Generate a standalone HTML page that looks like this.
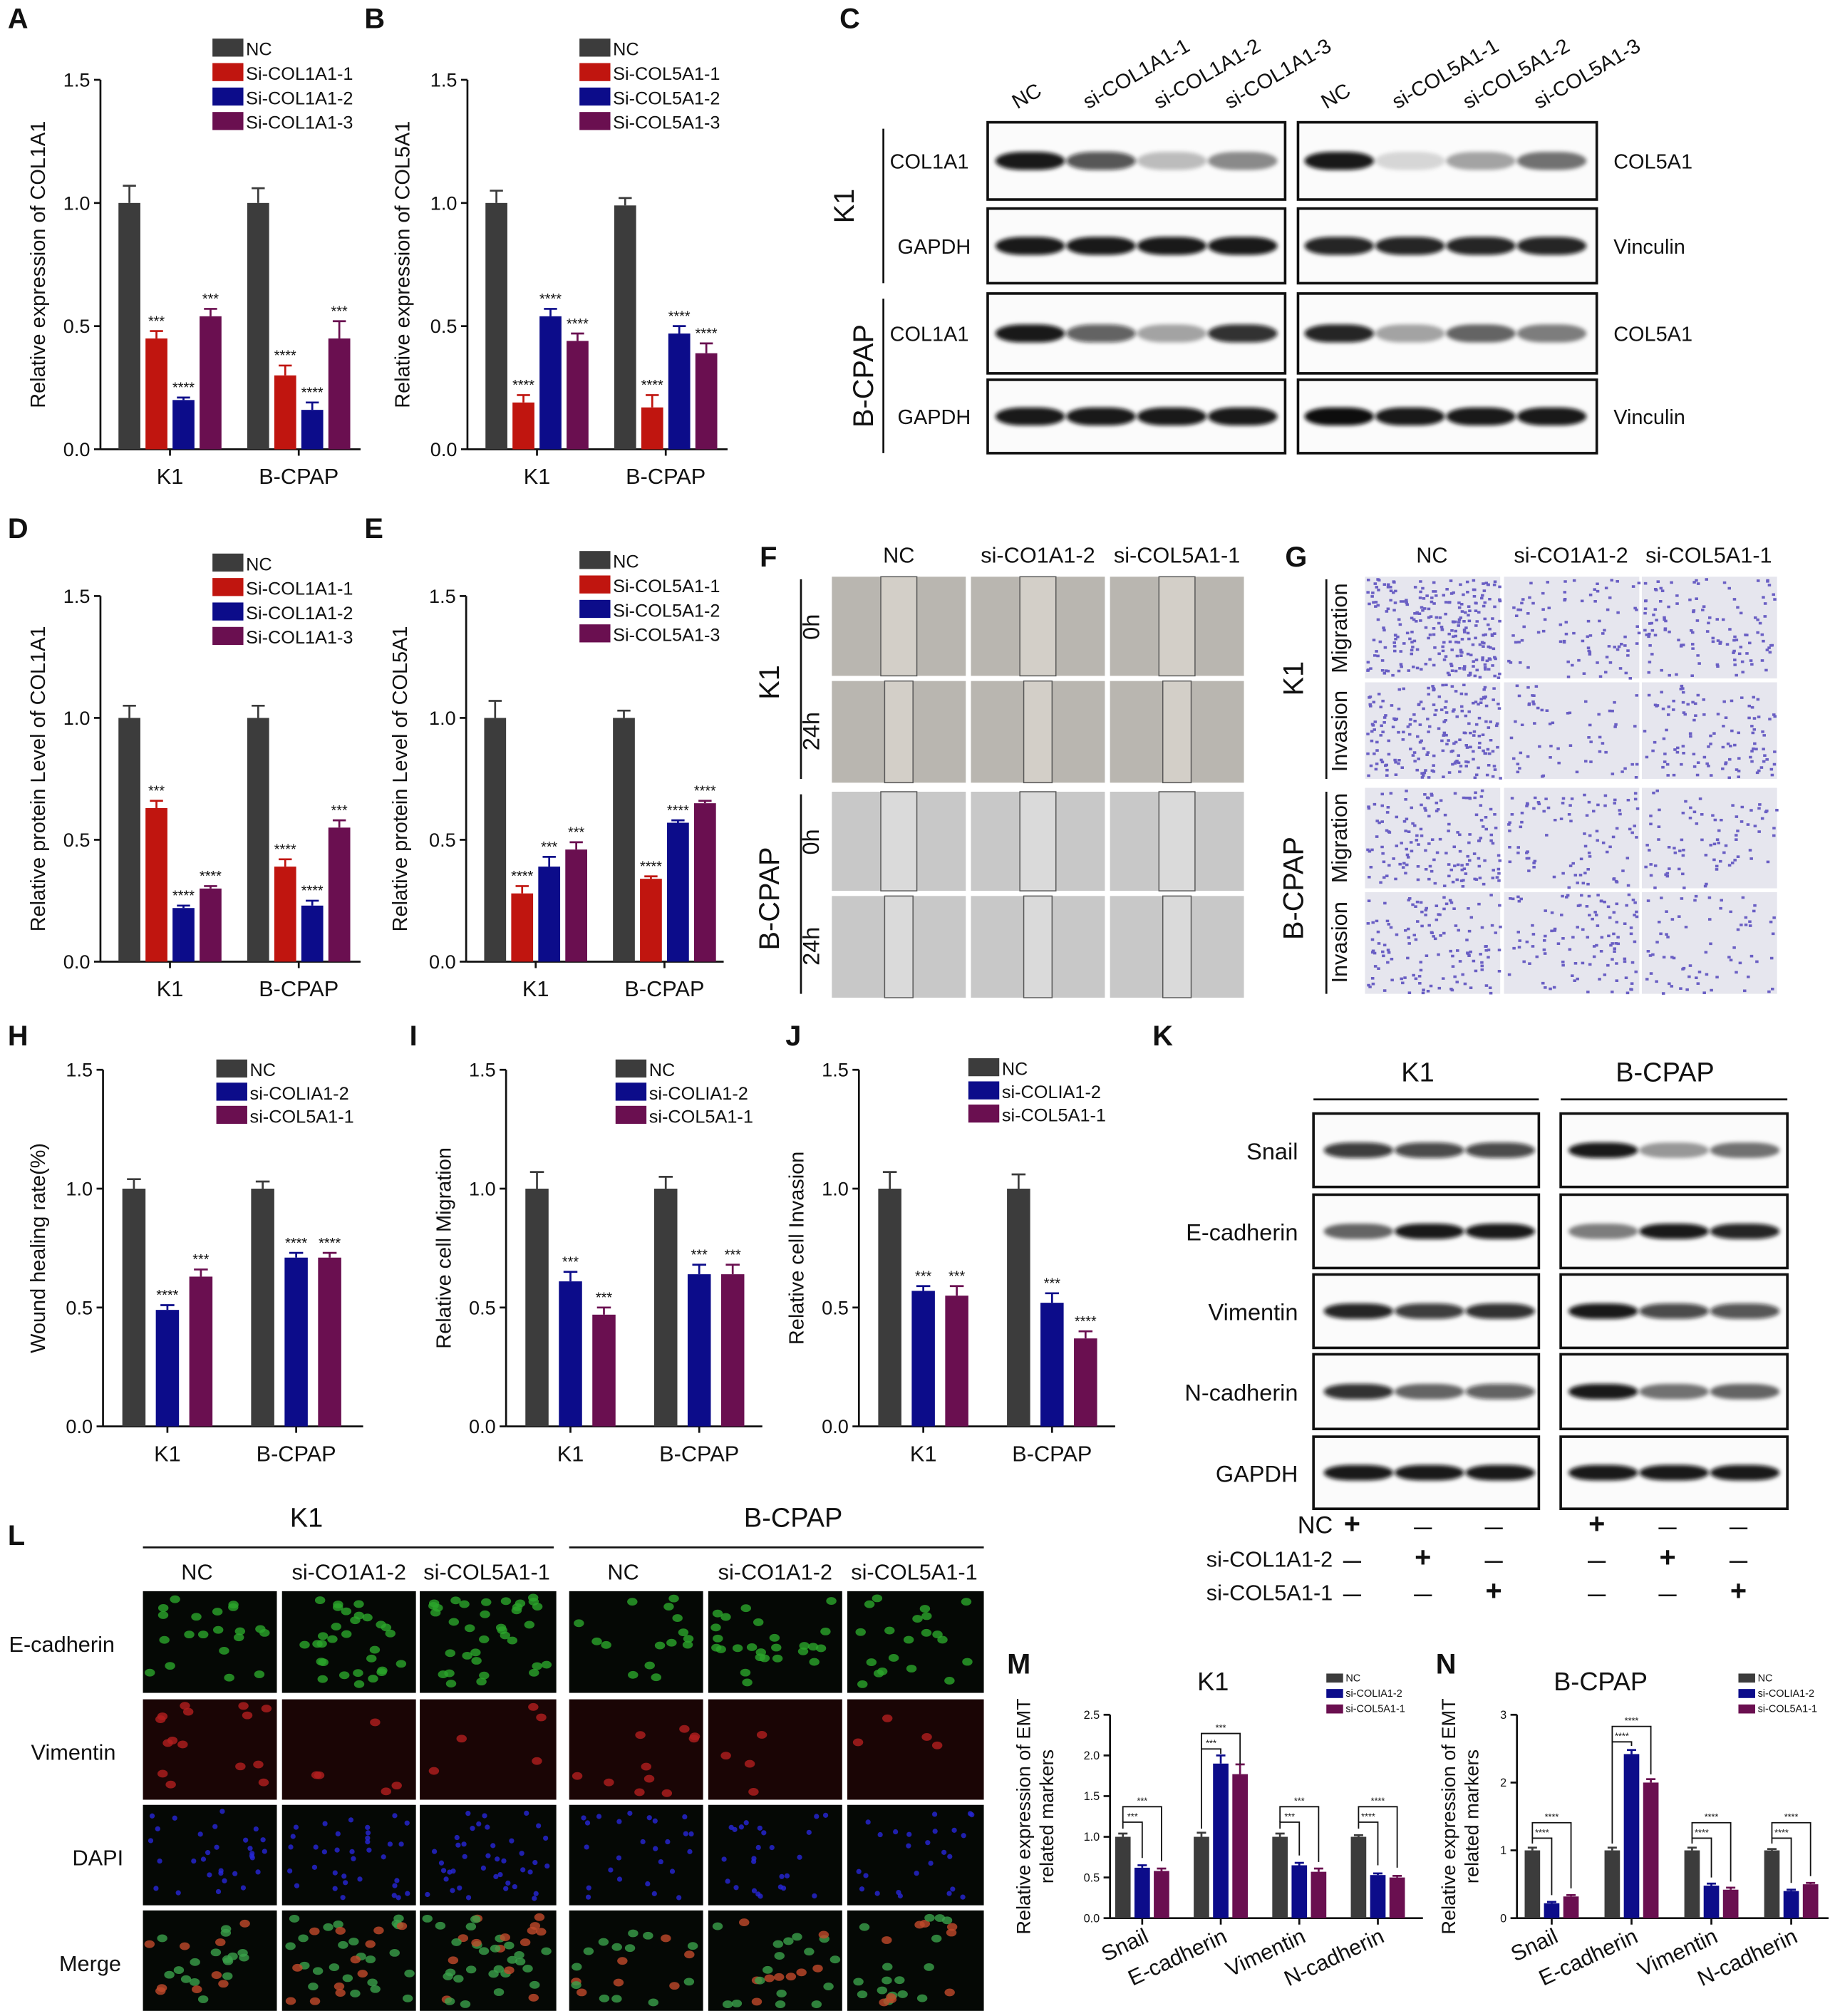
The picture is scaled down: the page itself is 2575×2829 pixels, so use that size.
<!DOCTYPE html>
<html><head><meta charset="utf-8">
<style>
html,body{margin:0;padding:0;background:#fff;}
svg{display:block;font-family:"Liberation Sans",Arial,sans-serif;}
</style></head>
<body>
<svg id="fig" width="2575" height="2829" viewBox="0 0 1425 1566" preserveAspectRatio="none" xmlns="http://www.w3.org/2000/svg">
<defs><filter id="soft" x="-20%" y="-50%" width="140%" height="200%"><feGaussianBlur stdDeviation="1.6"/></filter></defs>
</svg>
<script>
// ---------- chart data ----------
const catsKB = ["K1","B-CPAP"];
const catsEMT = ["Snail","E-cadherin","Vimentin","N-cadherin"];
const ticks15 = [0.0,0.5,1.0,1.5];
const ticksM = [0.0,0.5,1.0,1.5,2.0,2.5];
const ticksN = [0,1,2,3];

const aVals = [[1.0,1.0],[0.45,0.30],[0.20,0.16],[0.54,0.45]];
const aErr  = [[0.07,0.06],[0.03,0.04],[0.01,0.03],[0.03,0.07]];
const aStars= [["",""],["***","****"],["****","****"],["***","***"]];
const bVals = [[1.0,0.99],[0.19,0.17],[0.54,0.47],[0.44,0.39]];
const bErr  = [[0.05,0.03],[0.03,0.05],[0.03,0.03],[0.03,0.04]];
const bStars= [["",""],["****","****"],["****","****"],["****","****"]];
const dVals = [[1.0,1.0],[0.63,0.39],[0.22,0.23],[0.30,0.55]];
const dErr  = [[0.05,0.05],[0.03,0.03],[0.01,0.02],[0.01,0.03]];
const dStars= [["",""],["***","****"],["****","****"],["****","***"]];
const eVals = [[1.0,1.0],[0.28,0.34],[0.39,0.57],[0.46,0.65]];
const eErr  = [[0.07,0.03],[0.03,0.01],[0.04,0.01],[0.03,0.01]];
const eStars= [["",""],["****","****"],["***","****"],["***","****"]];
const hVals = [[1.0,1.0],[0.49,0.71],[0.63,0.71]];
const hErr  = [[0.04,0.03],[0.02,0.02],[0.03,0.02]];
const hStars= [["",""],["****","****"],["***","****"]];
const iVals = [[1.0,1.0],[0.61,0.64],[0.47,0.64]];
const iErr  = [[0.07,0.05],[0.04,0.04],[0.03,0.04]];
const iStars= [["",""],["***","***"],["***","***"]];
const jVals = [[1.0,1.0],[0.57,0.52],[0.55,0.37]];
const jErr  = [[0.07,0.06],[0.02,0.04],[0.04,0.03]];
const jStars= [["",""],["***","***"],["***","****"]];
const mVals = [[1.0,1.0,1.0,1.0],[0.62,1.90,0.65,0.53],[0.58,1.77,0.57,0.50]];
const mErr  = [[0.04,0.05,0.04,0.02],[0.03,0.1,0.03,0.02],[0.03,0.12,0.04,0.02]];
const nVals = [[1.0,1.0,1.0,1.0],[0.22,2.42,0.48,0.40],[0.32,2.00,0.42,0.50]];
const nErr  = [[0.04,0.04,0.04,0.02],[0.02,0.06,0.03,0.02],[0.02,0.05,0.03,0.02]];
const mStars = ["***","***","***","****"];
const nStars = ["****","****","****","****"];

const C_NC="#3c3c3c", C_R="#c0150f", C_B="#0c0c8a", C_P="#6a0f50";

// ---------- helpers ----------
const NS="http://www.w3.org/2000/svg";
const fig=document.getElementById('fig');
function el(tag,attrs,parent,text){const e=document.createElementNS(NS,tag);for(const k in attrs)e.setAttribute(k,attrs[k]);if(text!==undefined)e.textContent=text;(parent||fig).appendChild(e);return e;}
function txt(x,y,s,size,parent,extra){const a=Object.assign({x:x,y:y,'font-size':size,fill:'#111'},extra||{});return el('text',a,parent,s);}

function barChart(o){
  const g=el('g',{});
  
  
  const ymax=o.ticks[o.ticks.length-1];
  const Y=v=>o.yBot-(v/ymax)*(o.yBot-o.yTop);
  const ax=el('line',{x1:o.ax,y1:o.yTop,x2:o.ax,y2:o.yBot,stroke:'#111','stroke-width':1.5},g);
  
  
  el('line',{x1:o.ax,y1:o.yBot,x2:o.xEnd,y2:o.yBot,stroke:'#111','stroke-width':1.5},g);
  o.ticks.forEach(t=>{
    el('line',{x1:o.ax-5,y1:Y(t),x2:o.ax,y2:Y(t),stroke:'#111','stroke-width':1.5},g);
    const lab=txt(o.ax-8,Y(t)+o.tfs*0.35,t.toFixed(o.dec),o.tfs,g,{'text-anchor':'end'});
    
    
  });
  const ns=o.vals.length;
  o.cats.forEach((c,ci)=>{
    const gx=o.ax+o.g0+ci*o.gs;
    for(let s=0;s<ns;s++){
      const x=gx+s*o.step, v=o.vals[s][ci], e=o.err[s][ci];
      const r=el('rect',{x:x,y:Y(v),width:o.bw,height:o.yBot-Y(v),fill:o.colors[s]},g);
      
      
      const cx=x+o.bw/2;
      el('line',{x1:cx,y1:Y(v),x2:cx,y2:Y(v+e),stroke:o.colors[s],'stroke-width':1.5},g);
      el('line',{x1:cx-o.bw*0.3,y1:Y(v+e),x2:cx+o.bw*0.3,y2:Y(v+e),stroke:o.colors[s],'stroke-width':1.5},g);
      if(o.stars&&o.stars[s][ci]) txt(cx,Y(v+e)-4,o.stars[s][ci],o.sfs||11,g,{'text-anchor':'middle'});
    }
    const cxm=gx+((ns-1)*o.step+o.bw)/2;
    el('line',{x1:cxm,y1:o.yBot,x2:cxm,y2:o.yBot+5,stroke:'#111','stroke-width':1.5},g);
    if(o.rot){
      const t=txt(cxm+6,o.yBot+18,c,o.cfs,g,{'text-anchor':'end',transform:`rotate(-25 ${cxm+6} ${o.yBot+18})`});
      
      
    } else {
      const t=txt(cxm,o.yBot+27,c,o.cfs,g,{'text-anchor':'middle'});
      
      
    }
    if(o.brackets){
      const x0=gx+o.bw/2, x1=gx+o.step+o.bw/2, x2=gx+2*o.step+o.bw/2;
      const top=Math.max(o.vals[0][ci],o.vals[1][ci],o.vals[2][ci])+0.18;
      const yb1=Y(top), yb2=Y(top)-12;
      el('path',{d:`M${x0} ${Y(o.vals[0][ci]+0.1)}V${yb1}H${x1}V${Y(o.vals[1][ci]+0.12)}`,fill:'none',stroke:'#111','stroke-width':1},g);
      el('path',{d:`M${x0} ${yb1}V${yb2}H${x2}V${Y(o.vals[2][ci]+0.12)}`,fill:'none',stroke:'#111','stroke-width':1},g);
      txt((x0+x1)/2,yb1-2,o.brackets[ci],7,g,{'text-anchor':'middle'});
      txt((x0+x2)/2,yb2-2,o.brackets[ci],7,g,{'text-anchor':'middle'});
    }
  });
  const yl=txt(o.ylx,(o.yTop+o.yBot)/2,o.ylabel,o.yfs,g,{'text-anchor':'middle',transform:`rotate(-90 ${o.ylx} ${(o.yTop+o.yBot)/2})`});
  
  
  if(o.ylabel2){txt(o.ylx+18,(o.yTop+o.yBot)/2,o.ylabel2,o.yfs,g,{'text-anchor':'middle',transform:`rotate(-90 ${o.ylx+18} ${(o.yTop+o.yBot)/2})`});}
  o.legend.forEach((l,i)=>{
    const ly=o.lgY+i*o.lgStep;
    const r=el('rect',{x:o.lgX,y:ly,width:o.lgW,height:o.lgH,fill:o.colors[i]},g);
    
    
    const t=txt(o.lgX+o.lgW+2,ly+o.lgH-1,l,o.lfs,g);
    
    
  });
  if(o.title){txt(o.title[0],o.title[1],o.title[2],20,g,{'text-anchor':'middle'});}
}

const c4=[C_NC,C_R,C_B,C_P], c3=[C_NC,C_B,C_P];
const base4={ticks:ticks15,dec:1,tfs:15,cfs:17,yfs:16,g0:14,gs:100,step:21,bw:17,colors:c4,lgW:24,lgH:14,lgStep:19,lfs:14,sfs:11};
barChart(Object.assign({},base4,{name:'chart-a',ax:78,yTop:62,yBot:349,xEnd:280,cats:catsKB,vals:aVals,err:aErr,stars:aStars,ylx:35,ylabel:'Relative expression of COL1A1',legend:['NC','Si-COL1A1-1','Si-COL1A1-2','Si-COL1A1-3'],lgX:165,lgY:30}));
barChart(Object.assign({},base4,{name:'chart-b',ax:363,yTop:62,yBot:349,xEnd:565,cats:catsKB,vals:bVals,err:bErr,stars:bStars,ylx:318,ylabel:'Relative expression of COL5A1',legend:['NC','Si-COL5A1-1','Si-COL5A1-2','Si-COL5A1-3'],lgX:450,lgY:30}));
barChart(Object.assign({},base4,{name:'chart-d',ax:78,yTop:463,yBot:747,xEnd:280,cats:catsKB,vals:dVals,err:dErr,stars:dStars,ylx:35,ylabel:'Relative protein Level of COL1A1',legend:['NC','Si-COL1A1-1','Si-COL1A1-2','Si-COL1A1-3'],lgX:165,lgY:430}));
barChart(Object.assign({},base4,{name:'chart-e',ax:362,yTop:463,yBot:747,xEnd:562,cats:catsKB,vals:eVals,err:eErr,stars:eStars,ylx:316,ylabel:'Relative protein Level of COL5A1',legend:['NC','Si-COL5A1-1','Si-COL5A1-2','Si-COL5A1-3'],lgX:450,lgY:428}));
const base3={ticks:ticks15,dec:1,tfs:15,cfs:17,yfs:16,g0:15,gs:100,step:26,bw:18,colors:c3,lgW:24,lgH:14,lgStep:18,lfs:14,sfs:11};
barChart(Object.assign({},base3,{name:'chart-h',ax:80,yTop:831,yBot:1108,xEnd:282,cats:catsKB,vals:hVals,err:hErr,stars:hStars,ylx:35,ylabel:'Wound healing rate(%)',legend:['NC','si-COLIA1-2','si-COL5A1-1'],lgX:168,lgY:823}));
barChart(Object.assign({},base3,{name:'chart-i',ax:393,yTop:831,yBot:1108,xEnd:592,cats:catsKB,vals:iVals,err:iErr,stars:iStars,ylx:350,ylabel:'Relative cell Migration',legend:['NC','si-COLIA1-2','si-COL5A1-1'],lgX:478,lgY:823}));
barChart(Object.assign({},base3,{name:'chart-j',ax:667,yTop:831,yBot:1108,xEnd:866,cats:catsKB,vals:jVals,err:jErr,stars:jStars,ylx:624,ylabel:'Relative cell Invasion',legend:['NC','si-COLIA1-2','si-COL5A1-1'],lgX:752,lgY:822}));
const baseM={dec:1,tfs:9,cfs:17,yfs:15,g0:4,gs:61,step:15,bw:12,colors:c3,lgW:13,lgH:7,lgStep:12,lfs:8,rot:true};
barChart(Object.assign({},baseM,{name:'chart-m',ticks:ticksM,ax:862,yTop:1332,yBot:1490,xEnd:1105,cats:catsEMT,vals:mVals,err:mErr,brackets:mStars,ylx:800,ylabel:'Relative expression of EMT',ylabel2:'related markers',legend:['NC','si-COLIA1-2','si-COL5A1-1'],lgX:1030,lgY:1300,title:[942,1313,'K1']}));
barChart(Object.assign({},baseM,{name:'chart-n',ticks:ticksN,dec:0,ax:1178,yTop:1332,yBot:1490,xEnd:1420,g0:6,gs:62,cats:catsEMT,vals:nVals,err:nErr,brackets:nStars,ylx:1130,ylabel:'Relative expression of EMT',ylabel2:'related markers',legend:['NC','si-COLIA1-2','si-COL5A1-1'],lgX:1350,lgY:1300,title:[1243,1313,'B-CPAP']}));

// ---------- panel letters ----------
[['A',6,22],['B',283,22],['C',652,22],['D',6,418],['E',283,418],['F',590,440],['G',998,440],['H',6,812],['I',318,812],['J',610,812],['K',895,812],['L',6,1200],['M',782,1300],['N',1115,1300]].forEach(p=>{
  const t=txt(p[1],p[2],p[0],22,fig,{'font-weight':'bold'});
  
  
});

// ---------- western blots ----------
function band(g,cx,cy,w,h,dark){el('rect',{x:cx-w/2,y:cy-h/2,width:w,height:h,rx:w/2.6,ry:h/2,fill:`rgba(10,10,10,${dark})`,filter:'url(#soft)'},g);}
function blot(name,x,y,w,h,lanes,strengths,bh){
  const g=el('g',{});
  
  
  el('rect',{x:x,y:y,width:w,height:h,fill:'#fbfbfb',stroke:'#111','stroke-width':2},g);
  lanes.forEach((lx,i)=>band(g,lx,y+h/2,54,bh||14,strengths[i]));
}
const cRowsY=[[95,60],[162,58],[228,62],[295,57]];
const cL=[800,855,910,965], cR=[1040,1095,1150,1205];
const cLs=[[0.95,0.7,0.25,0.45],[0.95,0.95,0.95,0.95],[0.95,0.65,0.35,0.85],[0.95,0.95,0.95,0.95]];
const cRs=[[0.95,0.15,0.35,0.55],[0.9,0.9,0.9,0.9],[0.9,0.35,0.6,0.5],[1,0.95,0.95,0.95]];
cRowsY.forEach((r,i)=>{blot('blot-c-left-'+i,767,r[0],231,r[1],cL,cLs[i]);blot('blot-c-right-'+i,1008,r[0],232,r[1],cR,cRs[i]);});
['COL1A1','GAPDH','COL1A1','GAPDH'].forEach((s,i)=>txt(i%2?697:691,cRowsY[i][0]+cRowsY[i][1]/2+6,s,16));
['COL5A1','Vinculin','COL5A1','Vinculin'].forEach((s,i)=>txt(1253,cRowsY[i][0]+cRowsY[i][1]/2+6,s,16));
el('line',{x1:686,y1:100,x2:686,y2:220,stroke:'#111','stroke-width':1.5});
el('line',{x1:686,y1:232,x2:686,y2:352,stroke:'#111','stroke-width':1.5});
txt(678,145,'K1',22,fig,{'text-anchor':'middle',transform:'rotate(-90 678 160)'});
txt(678,292,'B-CPAP',22,fig,{'text-anchor':'middle',transform:'rotate(-90 678 292)'});
const lanesC=['NC','si-COL1A1-1','si-COL1A1-2','si-COL1A1-3','NC','si-COL5A1-1','si-COL5A1-2','si-COL5A1-3'];
lanesC.forEach((s,i)=>{const x=(i<4?cL[i]:cR[i-4])-10;const t=txt(x,85,s,16,fig,{transform:`rotate(-30 ${x} 85)`});});
const kRows=[[865,57,'Snail'],[928,57,'E-cadherin'],[990,57,'Vimentin'],[1052,58,'N-cadherin'],[1116,56,'GAPDH']];
const kL=[1055,1110,1165],kR=[1245,1300,1355];
const kLs=[[0.8,0.75,0.75],[0.6,0.95,0.95],[0.9,0.8,0.85],[0.85,0.6,0.65],[0.95,0.95,0.95]];
const kRs=[[0.95,0.4,0.55],[0.5,0.95,0.9],[0.95,0.75,0.7],[0.95,0.55,0.6],[0.95,0.95,0.95]];
kRows.forEach((r,i)=>{blot('blot-k-left-'+i,1020,r[0],175,r[1],kL,kLs[i],12);blot('blot-k-right-'+i,1212,r[0],176,r[1],kR,kRs[i],12);txt(1008,r[0]+r[1]/2+7,r[2],18,fig,{'text-anchor':'end'});});
txt(1101,840,'K1',21,fig,{'text-anchor':'middle'});txt(1293,840,'B-CPAP',21,fig,{'text-anchor':'middle'});
el('line',{x1:1020,y1:854,x2:1195,y2:854,stroke:'#111','stroke-width':1.5});
el('line',{x1:1212,y1:854,x2:1388,y2:854,stroke:'#111','stroke-width':1.5});
const kSigns=[['+','—','—','+','—','—'],['—','+','—','—','+','—'],['—','—','+','—','—','+']];
['NC','si-COL1A1-2','si-COL5A1-1'].forEach((s,i)=>{const y=1191+i*26;txt(1035,y,s,i?17:19,fig,{'text-anchor':'end'});kSigns[i].forEach((sg,j)=>{const x=j<3?kL[j]-5:kR[j-3]-5;txt(x,y,sg,sg==='+'?22:14,fig,{'text-anchor':'middle','font-weight':'bold'});});});

// ---------- microscopy F ----------
const fCols=[646,754,862], fRows=[[448,77],[529,79],[615,77],[696,79]];
['NC','si-CO1A1-2','si-COL5A1-1'].forEach((s,i)=>txt(fCols[i]+52,437,s,17,fig,{'text-anchor':'middle'}));
fRows.forEach((r,ri)=>fCols.forEach((cx,ci)=>{
  const g=el('g',{});
  el('rect',{x:cx,y:r[0],width:104,height:r[1],fill:ri<2?'#b9b6b0':'#c8c8c8'},g);
  const w=ri%2?22:28;
  el('rect',{x:cx+52-w/2,y:r[0],width:w,height:r[1],fill:ri<2?'#d3cfc8':'#dadada',stroke:'#555','stroke-width':0.8},g);
}));
txt(600,525,'K1',22,fig,{'text-anchor':'middle',transform:'rotate(-90 605 525)'});
txt(605,698,'B-CPAP',22,fig,{'text-anchor':'middle',transform:'rotate(-90 605 698)'});
[['0h',487],['24h',568],['0h',654],['24h',735]].forEach(a=>txt(636,a[1],a[0],18,fig,{'text-anchor':'middle',transform:`rotate(-90 636 ${a[1]})`}));
el('line',{x1:622,y1:450,x2:622,y2:605,stroke:'#111','stroke-width':1.5});
el('line',{x1:622,y1:617,x2:622,y2:772,stroke:'#111','stroke-width':1.5});

// ---------- microscopy G ----------
let seed=7;function rnd(){seed=(seed*16807)%2147483647;return seed/2147483647;}
const gCols=[1060,1168,1275], gRows=[[448,79],[530,75],[612,78],[693,79]];
const gDens=[[260,90,120],[200,60,110],[150,90,80],[130,110,70]];
['NC','si-CO1A1-2','si-COL5A1-1'].forEach((s,i)=>txt(gCols[i]+52,437,s,17,fig,{'text-anchor':'middle'}));
gRows.forEach((r,ri)=>gCols.forEach((cx,ci)=>{
  const g=el('g',{});
  el('rect',{x:cx,y:r[0],width:105,height:r[1],fill:'#e6e6ee'},g);
  let d='';for(let k=0;k<gDens[ri][ci];k++){const x=cx+rnd()*103+1,y=r[0]+rnd()*(r[1]-2)+1;d+=`M${x.toFixed(1)} ${y.toFixed(1)}h2.5v2h-2.5z`;}
  el('path',{d:d,fill:'#6a5fc4'},g);
}));
txt(1012,527,'K1',22,fig,{'text-anchor':'middle',transform:'rotate(-90 1012 527)'});
txt(1012,690,'B-CPAP',22,fig,{'text-anchor':'middle',transform:'rotate(-90 1012 690)'});
[['Migration',488],['Invasion',568],['Migration',651],['Invasion',732]].forEach(a=>txt(1046,a[1],a[0],17,fig,{'text-anchor':'middle',transform:`rotate(-90 1046 ${a[1]})`}));
el('line',{x1:1030,y1:450,x2:1030,y2:605,stroke:'#111','stroke-width':1.5});
el('line',{x1:1030,y1:615,x2:1030,y2:772,stroke:'#111','stroke-width':1.5});

// ---------- microscopy L ----------
const lCols=[111,219,326,442,550,658], lRows=[[1236,79],[1320,78],[1402,78],[1484,78]];
const lCol=['#2aa52a','#b21e1e','#2727d8','#3aa04a'];
const lDens=[[20,30,35,15,25,20],[15,5,5,10,4,4],[30,35,40,25,25,25],[25,35,40,20,25,25]];
txt(238,1186,'K1',21,fig,{'text-anchor':'middle'});txt(616,1186,'B-CPAP',21,fig,{'text-anchor':'middle'});
el('line',{x1:111,y1:1202,x2:430,y2:1202,stroke:'#111','stroke-width':1.5});
el('line',{x1:442,y1:1202,x2:764,y2:1202,stroke:'#111','stroke-width':1.5});
['NC','si-CO1A1-2','si-COL5A1-1','NC','si-CO1A1-2','si-COL5A1-1'].forEach((s,i)=>txt(lCols[i]+(i%3?52:42),1227,s,17,fig,{'text-anchor':'middle'}));
['E-cadherin','Vimentin','DAPI','Merge'].forEach((s,i)=>txt(i==0?48:(i==3?70:(i==1?57:76)),lRows[i][0]+47,s,17,fig,{'text-anchor':'middle'}));
lRows.forEach((r,ri)=>lCols.forEach((cx,ci)=>{
  const g=el('g',{});
  el('rect',{x:cx,y:r[0],width:ci==2||ci==5?106:104,height:r[1],fill:ri==1?'#1a0505':'#050805'},g);
  for(let k=0;k<lDens[ri][ci];k++){const x=cx+5+rnd()*94,y=r[0]+5+rnd()*(r[1]-10);el('ellipse',{cx:x,cy:y,rx:ri==2?2:4,ry:ri==2?2:3,fill:ri==3&&k%3==0?'#c04a2a':lCol[ri],opacity:0.8},g);}
}));
</script>
</body></html>
